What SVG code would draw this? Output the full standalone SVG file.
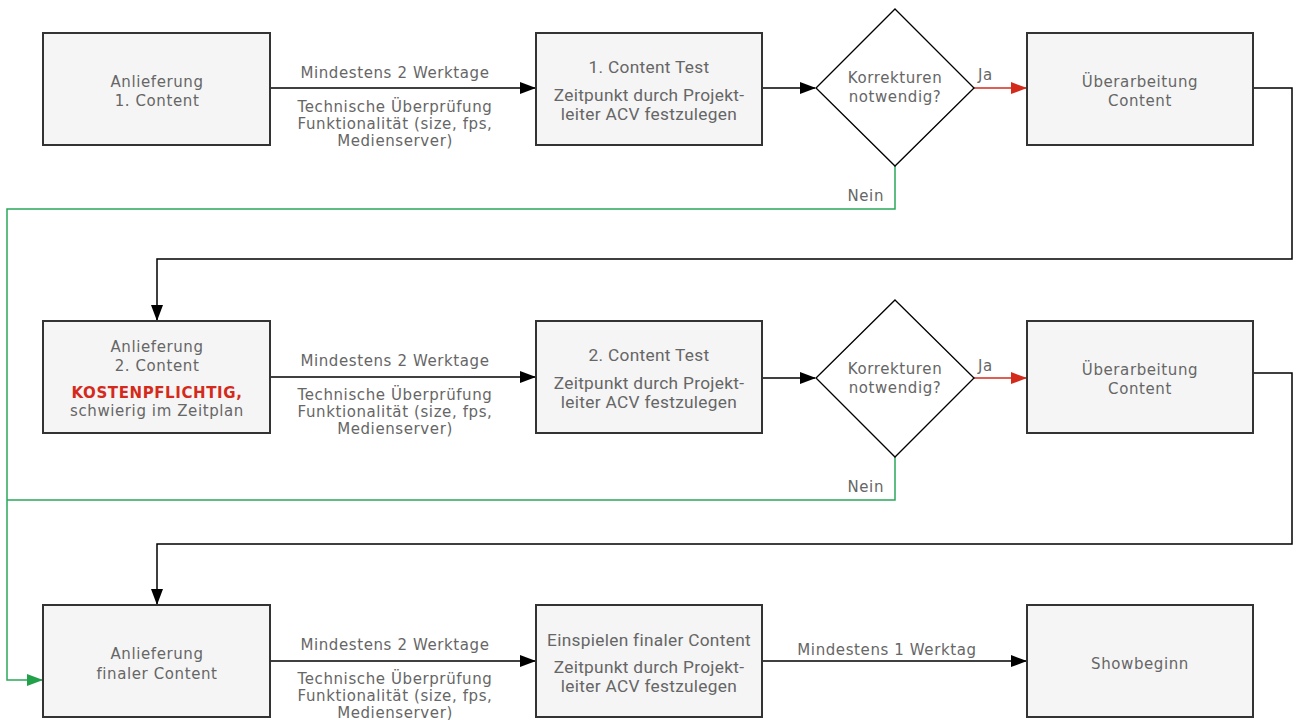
<svg xmlns="http://www.w3.org/2000/svg" width="1297" height="720" viewBox="0 0 1297 720">
<defs>
<style>
.box{fill:#f5f5f5;stroke:#333;stroke-width:2}
.dia{fill:#fff;stroke:#000;stroke-width:1.3}
.t{font-family:"DejaVu Sans","Open Sans",sans-serif;font-size:15px;letter-spacing:0.6px;fill:#666;text-anchor:middle}
.n{font-family:Roboto,"Liberation Sans",sans-serif;font-size:17.3px;letter-spacing:0.3px;fill:#666;text-anchor:middle}
.red{font-family:"DejaVu Sans","Open Sans",sans-serif;font-size:15px;letter-spacing:0.6px;font-weight:bold;fill:#d42a1c;text-anchor:middle}
.c{fill:none;stroke:#000;stroke-width:1.5}
.cr{fill:none;stroke:#d42a1c;stroke-width:1.5}
.cg{fill:none;stroke:#2aa85a;stroke-width:1.5}
</style>
<marker id="ab" markerWidth="16" markerHeight="12" refX="15" refY="6" orient="auto" markerUnits="userSpaceOnUse"><path d="M0,0 L16,6 L0,12 Z" fill="#000"/></marker>
<marker id="ar" markerWidth="16" markerHeight="12" refX="15" refY="6" orient="auto" markerUnits="userSpaceOnUse"><path d="M0,0 L16,6 L0,12 Z" fill="#d42a1c"/></marker>
<marker id="ag" markerWidth="16" markerHeight="12" refX="15" refY="6" orient="auto" markerUnits="userSpaceOnUse"><path d="M0,0 L16,6 L0,12 Z" fill="#22a04a"/></marker>
</defs>
<rect width="1297" height="720" fill="#fff"/>
<g id="connectors">
<path class="c" d="M270,88 H535" marker-end="url(#ab)"/>
<path class="c" d="M762,88 H815" marker-end="url(#ab)"/>
<path class="cr" d="M974,88 H1026" marker-end="url(#ar)"/>
<path class="cg" d="M895,166 V209 H7 V680 H42" marker-end="url(#ag)"/>
<path class="c" d="M1253,88 H1292 V259 H157 V320" marker-end="url(#ab)"/>
<path class="c" d="M270,377 H535" marker-end="url(#ab)"/>
<path class="c" d="M762,378 H815" marker-end="url(#ab)"/>
<path class="cr" d="M974,378 H1026" marker-end="url(#ar)"/>
<path class="cg" d="M895,457 V500 H7"/>
<path class="c" d="M1253,373 H1292 V544 H157 V604" marker-end="url(#ab)"/>
<path class="c" d="M270,661 H535" marker-end="url(#ab)"/>
<path class="c" d="M762,661 H1026" marker-end="url(#ab)"/>
<text class="t" x="395" y="78">Mindestens 2 Werktage</text>
<text class="t" x="395" y="112">Technische Überprüfung</text>
<text class="t" x="395" y="129">Funktionalität (size, fps,</text>
<text class="t" x="395" y="146">Medienserver)</text>
<text class="t" x="978" y="80" style="text-anchor:start">Ja</text>
<text class="t" x="884" y="201" style="text-anchor:end">Nein</text>
<text class="t" x="395" y="366">Mindestens 2 Werktage</text>
<text class="t" x="395" y="400">Technische Überprüfung</text>
<text class="t" x="395" y="417">Funktionalität (size, fps,</text>
<text class="t" x="395" y="434">Medienserver)</text>
<text class="t" x="978" y="371" style="text-anchor:start">Ja</text>
<text class="t" x="884" y="492" style="text-anchor:end">Nein</text>
<text class="t" x="395" y="650">Mindestens 2 Werktage</text>
<text class="t" x="395" y="684">Technische Überprüfung</text>
<text class="t" x="395" y="701">Funktionalität (size, fps,</text>
<text class="t" x="395" y="718">Medienserver)</text>
<text class="t" x="887" y="655">Mindestens 1 Werktag</text>
</g>
<g id="n1">
<rect class="box" x="43" y="33" width="227" height="112"/>
<text class="t" x="157" y="87">Anlieferung</text>
<text class="t" x="157" y="106">1. Content</text>
</g>
<g id="n2">
<rect class="box" x="536" y="33" width="226" height="112"/>
<text class="n" x="649" y="73">1. Content Test</text>
<text class="n" x="649" y="101">Zeitpunkt durch Projekt-</text>
<text class="n" x="649" y="120">leiter ACV festzulegen</text>
</g>
<g id="d1">
<polygon class="dia" points="895,9 974,88 895,166 816,88"/>
<text class="t" x="895" y="83">Korrekturen</text>
<text class="t" x="895" y="102">notwendig?</text>
</g>
<g id="n3">
<rect class="box" x="1027" y="33" width="226" height="112"/>
<text class="t" x="1140" y="87">Überarbeitung</text>
<text class="t" x="1140" y="106">Content</text>
</g>
<g id="n4">
<rect class="box" x="43" y="321" width="227" height="112"/>
<text class="t" x="157" y="352">Anlieferung</text>
<text class="t" x="157" y="371">2. Content</text>
<text class="red" x="157" y="398">KOSTENPFLICHTIG,</text>
<text class="t" x="157" y="416">schwierig im Zeitplan</text>
</g>
<g id="n5">
<rect class="box" x="536" y="321" width="226" height="112"/>
<text class="n" x="649" y="361">2. Content Test</text>
<text class="n" x="649" y="389">Zeitpunkt durch Projekt-</text>
<text class="n" x="649" y="408">leiter ACV festzulegen</text>
</g>
<g id="d2">
<polygon class="dia" points="895,300 974,378 895,457 816,378"/>
<text class="t" x="895" y="374">Korrekturen</text>
<text class="t" x="895" y="393">notwendig?</text>
</g>
<g id="n6">
<rect class="box" x="1027" y="321" width="226" height="112"/>
<text class="t" x="1140" y="375">Überarbeitung</text>
<text class="t" x="1140" y="394">Content</text>
</g>
<g id="n7">
<rect class="box" x="43" y="605" width="227" height="112"/>
<text class="t" x="157" y="659">Anlieferung</text>
<text class="t" x="157" y="679">finaler Content</text>
</g>
<g id="n8">
<rect class="box" x="536" y="605" width="226" height="112"/>
<text class="n" x="649" y="646">Einspielen finaler Content</text>
<text class="n" x="649" y="673">Zeitpunkt durch Projekt-</text>
<text class="n" x="649" y="692">leiter ACV festzulegen</text>
</g>
<g id="n9">
<rect class="box" x="1027" y="605" width="226" height="112"/>
<text class="t" x="1140" y="669">Showbeginn</text>
</g>
</svg>
